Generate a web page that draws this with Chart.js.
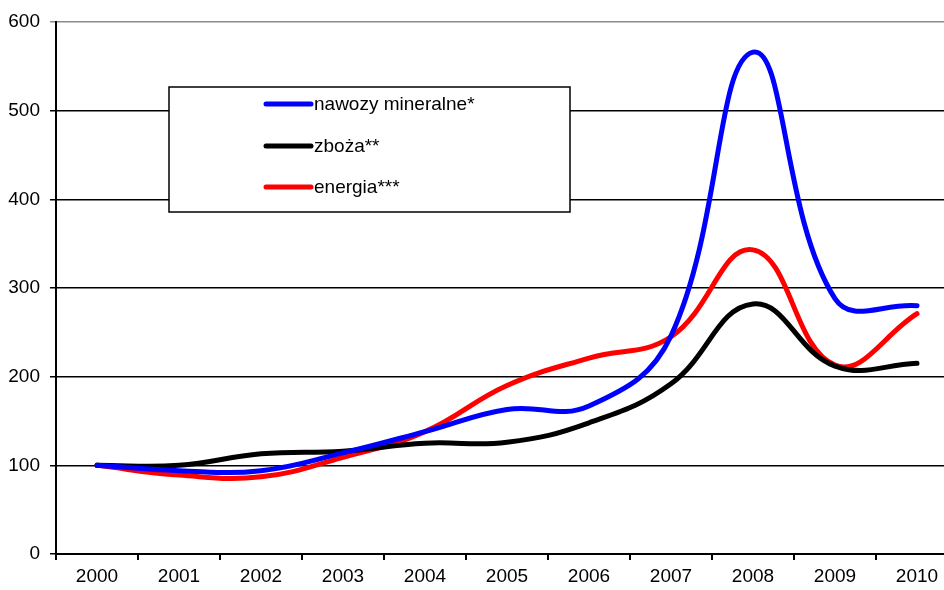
<!DOCTYPE html>
<html>
<head>
<meta charset="utf-8">
<script src="https://cdn.jsdelivr.net/npm/chart.js@4"></script>
<style>
  html, body { margin: 0; padding: 0; background: #fff; overflow: hidden; }
  #wrap { width: 960px; height: 590px; }
</style>
</head>
<body>
<div id="wrap"><canvas id="priceChart" width="960" height="590"></canvas></div>
<script>
// lata
const years = ['2000', '2001', '2002', '2003', '2004', '2005', '2006', '2007', '2008', '2009', '2010'];
// indeksy cen (2000 = 100)
const nawozy = [100, 94, 94, 114, 138, 163, 167, 246, 566, 288, 280];
const zboza = [100, 100, 113, 116, 125, 126, 148, 192, 282, 212, 215];
const energia = [100, 89, 87, 109, 138, 190, 221, 245, 343, 213, 271];
const yTicks = [0, 100, 200, 300, 400, 500, 600];

const FONT = "'Liberation Sans', Arial, sans-serif";
Chart.defaults.font.family = FONT;
Chart.defaults.font.size = 19;
Chart.defaults.color = '#000';

// legenda w ramce wewnatrz wykresu
const boxLegend = {
    id: 'boxLegend',
    afterDatasetsDraw(chart) {
        const c = chart.ctx;
        c.save();
        c.fillStyle = '#fff';
        c.fillRect(169, 87, 401, 125);
        c.strokeStyle = '#000';
        c.lineWidth = 1.5;
        c.strokeRect(169, 87, 401, 125);
        const rows = [104, 146, 187];
        chart.data.datasets.forEach((ds, i) => {
            c.strokeStyle = ds.borderColor;
            c.lineWidth = 5;
            c.lineCap = 'round';
            c.beginPath();
            c.moveTo(266, rows[i]);
            c.lineTo(311, rows[i]);
            c.stroke();
            c.fillStyle = '#000';
            c.font = '19px ' + FONT;
            c.textBaseline = 'middle';
            c.fillText(ds.label, 314, rows[i] + 1);
        });
        c.restore();
    }
};

new Chart(document.getElementById('priceChart'), {
    type: 'line',
    data: {
        labels: years,
        datasets: [
            { label: 'nawozy mineralne*', data: nawozy, borderColor: '#0000ff' },
            { label: 'zboża**', data: zboza, borderColor: '#000000' },
            { label: 'energia***', data: energia, borderColor: '#ff0000' }
        ]
    },
    options: {
        responsive: false,
        animation: false,
        layout: { padding: { top: 22, right: 2, left: 0, bottom: 0 } },
        elements: {
            line: { borderWidth: 5, tension: 0.42, borderCapStyle: 'round', fill: false },
            point: { radius: 0 }
        },
        plugins: { legend: { display: false }, tooltip: { enabled: false } },
        scales: {
            x: {
                offset: true,
                grid: { offset: true, drawOnChartArea: false, tickLength: 6, color: '#000', lineWidth: 2 },
                border: { color: '#000', width: 2 },
                ticks: { padding: 5, maxRotation: 0 },
                afterFit(scale) { scale.height = 36; }
            },
            y: {
                min: 0,
                max: 600,
                afterBuildTicks(scale) { scale.ticks = yTicks.map(v => ({ value: v })); },
                grid: {
                    tickLength: 6,
                    lineWidth: 1.5,
                    color: ctx => (ctx.tick && ctx.tick.value === 600) ? '#8c8c8c' : '#000'
                },
                border: { color: '#000', width: 2 },
                ticks: { padding: 10 },
                afterFit(scale) { scale.width = 56; }
            }
        }
    },
    plugins: [boxLegend]
});
</script>
</body>
</html>
